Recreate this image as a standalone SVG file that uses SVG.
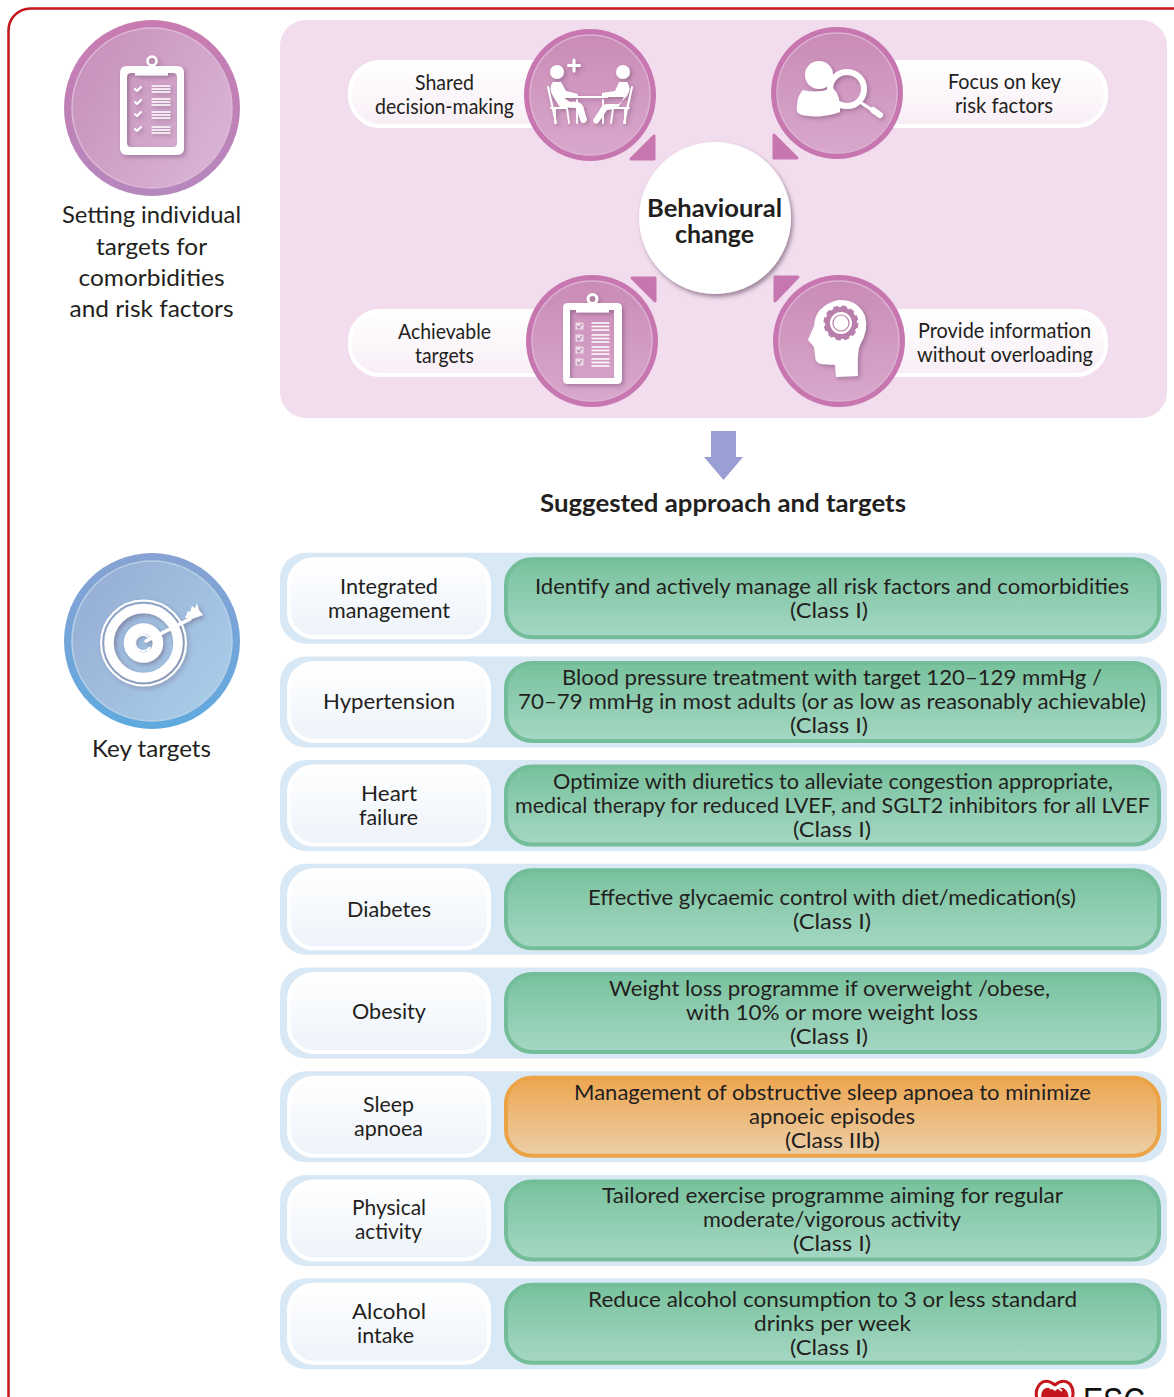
<svg xmlns="http://www.w3.org/2000/svg" width="1174" height="1397" viewBox="0 0 1174 1397">
<style>
text{font-family:Lato,"Noto Sans","Liberation Sans",sans-serif;fill:#231f20;text-anchor:middle}
.t{font-size:22px}.s{font-size:21px}.l{font-size:24px}.b{font-weight:700;font-size:25px}
.row{fill:#d9e8f5}.lp{fill:url(#gLeft);stroke:#fff;stroke-width:4}
.gp{fill:url(#gGreen);stroke:#74bd99;stroke-width:4}.op{fill:url(#gOrange);stroke:#eca346;stroke-width:4}
.pp{fill:url(#gPill);stroke:#fff;stroke-width:4}
.ring{fill:#c776af}.in{fill:url(#gPink);stroke:#dcb1d2;stroke-width:1.5}
.w{fill:#fff}.ws{fill:none;stroke:#fff;stroke-linecap:round;stroke-linejoin:round}
.tri{fill:#c776af;stroke:#c776af;stroke-width:3;stroke-linejoin:round}
</style>
<defs>
<linearGradient id="gLeft" x1="0" y1="0" x2="0" y2="1"><stop offset="0" stop-color="#fff"/><stop offset="1" stop-color="#edf3fa"/></linearGradient>
<linearGradient id="gGreen" x1="0" y1="0" x2="0" y2="1"><stop offset="0" stop-color="#78c29d"/><stop offset="1" stop-color="#a5d7c4"/></linearGradient>
<linearGradient id="gOrange" x1="0" y1="0" x2="0" y2="1"><stop offset="0" stop-color="#eea650"/><stop offset="1" stop-color="#ebcfa8"/></linearGradient>
<linearGradient id="gPill" x1="0" y1="0" x2="0" y2="1"><stop offset="0" stop-color="#fff"/><stop offset="1" stop-color="#f8eef6"/></linearGradient>
<linearGradient id="gPink" x1="0" y1="0" x2="0" y2="1"><stop offset="0" stop-color="#c98cb6"/><stop offset="1" stop-color="#d9a7cc"/></linearGradient>
<linearGradient id="gBigRing" x1="0" y1="0" x2="0" y2="1"><stop offset="0" stop-color="#c97bb0"/><stop offset="1" stop-color="#b587bd"/></linearGradient>
<linearGradient id="gBigIn" x1="0" y1="0" x2="1" y2="0.6"><stop offset="0" stop-color="#c68db8"/><stop offset="1" stop-color="#d8b2d3"/></linearGradient>
<linearGradient id="gBlueRing" x1="0" y1="0" x2="0" y2="1"><stop offset="0" stop-color="#88a2d3"/><stop offset="1" stop-color="#5fa9df"/></linearGradient>
<linearGradient id="gBlueIn" x1="0" y1="0" x2="1" y2="0.8"><stop offset="0" stop-color="#94abd2"/><stop offset="1" stop-color="#a9cde9"/></linearGradient>
<filter id="sh" x="-30%" y="-30%" width="170%" height="170%"><feDropShadow dx="2" dy="2" stdDeviation="2" flood-color="#5a3a5a" flood-opacity="0.4"/></filter>
<filter id="shB" x="-20%" y="-20%" width="150%" height="150%"><feDropShadow dx="2" dy="3" stdDeviation="2" flood-color="#5a3a5a" flood-opacity="0.55"/></filter>
</defs>

<rect id="frame" x="8.500" y="8.500" width="1300" height="1600" rx="22" fill="#fff" stroke="#c4161c" stroke-width="2.500"/>
<rect id="panel" x="280" y="20" width="887" height="398" rx="26" fill="#f1dded"/>

<g id="connectors">
<polygon class="tri" points="654,136 654,159 631,159"/>
<polygon class="tri" points="774,135 774,158 797,158"/>
<polygon class="tri" points="655,278 655,301 632,278"/>
<polygon class="tri" points="775,277 775,301 798,277"/>
<polygon id="down-arrow" points="711,431 736,431 736,457 743,457 723.500,480 704,457 711,457" fill="#9a9fd3"/>
</g>

<g id="node-setting-targets">
<circle cx="152" cy="108" r="88" fill="url(#gBigRing)"/>
<circle cx="152" cy="108" r="80" fill="url(#gBigIn)" stroke="#dcb9d6" stroke-width="1.500"/>
<g filter="url(#sh)">
<path class="w" fill-rule="evenodd" d="M127 66H177Q184 66 184 73V148Q184 155 177 155H127Q120 155 120 148V73Q120 66 127 66ZM131 73Q127 73 127 77V143Q127 147 131 147H173Q177 147 177 143V77Q177 73 173 73Z"/>
<rect class="w" x="135" y="66" width="33" height="9.500"/>
<circle cx="152" cy="61" r="4.500" fill="none" stroke="#fff" stroke-width="2.500"/>
<path class="ws" stroke-width="2" d="M135 89l2 2 4-4M135 102l2 2 4-4M135 114l2 2 4-4M135 129l2 2 4-4"/>
<path class="ws" stroke-width="1.300" stroke-linecap="butt" d="M152 86h18M152 89h18M152 92h18M152 99h18M152 102h18M152 105h18M152 112h18M152 115h18M152 118h18M152 127h18M152 130h18M152 133h18"/>
</g>
<text class="l" x="151.500" y="223" textLength="179" lengthAdjust="spacingAndGlyphs">Setting individual</text>
<text class="l" x="151.500" y="255" textLength="111" lengthAdjust="spacingAndGlyphs">targets for</text>
<text class="l" x="151.500" y="286" textLength="146" lengthAdjust="spacingAndGlyphs">comorbidities</text>
<text class="l" x="151.500" y="317" textLength="164" lengthAdjust="spacingAndGlyphs">and risk factors</text>
</g>

<g id="node-shared">
<rect class="pp" x="350" y="62" width="250" height="64" rx="30"/>
<circle class="ring" cx="590" cy="95" r="66"/><circle class="in" cx="590" cy="95" r="60"/>
<g filter="url(#sh)">
<circle class="w" cx="557" cy="72" r="7"/><circle class="w" cx="623" cy="72" r="7"/>
<path class="ws" stroke-width="3" d="M574 60v11M568.500 65.500h11"/>
<path class="w" d="M553 82Q548 88 553 96L560 107L576 108L581 122Q585 125 587 120L583 106Q580 101 570 102L564 98H578V94L566 91L561 82Z"/>
<path class="w" d="M627 82Q632 88 627 96L619 104L606 104Q601 106 599 111L593 120Q594 125 598 123L607 110L618 108L624 97L616 97H602V93L615 91L619 82Z"/>
<path class="ws" stroke-width="2" d="M570 97H607M548 87L556 123M632 87L624 123"/>
<path class="ws" stroke-width="1.800" d="M551 108H567L569 123M555 108V123M629 108H613L611 123M625 108V123M577 100V123M603 100V123"/>
</g>
<text class="s" x="444.500" y="90" textLength="59" lengthAdjust="spacingAndGlyphs">Shared</text>
<text class="s" x="444.500" y="114" textLength="139" lengthAdjust="spacingAndGlyphs">decision-making</text>
</g>

<g id="node-focus">
<rect class="pp" x="840" y="62" width="266" height="64" rx="30"/>
<circle class="ring" cx="837" cy="93" r="66"/><circle class="in" cx="837" cy="93" r="60"/>
<g filter="url(#sh)">
<circle cx="847" cy="89" r="17" fill="none" stroke="#fff" stroke-width="6"/>
<circle class="w" cx="819" cy="75" r="14"/>
<path class="w" d="M803 90Q818 94 833 88Q841 96 840 112Q820 119 802 115Q795 113 797 106Q797 96 803 90Z"/>
<path class="ws" stroke-width="3" d="M860 102L872 110"/>
<path class="ws" stroke-width="6" d="M873 110L880 115"/>
</g>
<text class="s" x="1004.500" y="89" textLength="113" lengthAdjust="spacingAndGlyphs">Focus on key</text>
<text class="s" x="1004" y="113" textLength="98" lengthAdjust="spacingAndGlyphs">risk factors</text>
</g>

<g id="node-achievable">
<rect class="pp" x="350" y="311" width="250" height="64" rx="30"/>
<circle class="ring" cx="592" cy="341" r="66"/><circle class="in" cx="592" cy="341" r="60"/>
<g filter="url(#sh)">
<path class="w" fill-rule="evenodd" d="M568 303H617Q622 303 622 308V379Q622 384 617 384H568Q563 384 563 379V308Q563 303 568 303ZM570 310V378H614V310Z"/>
<rect class="w" x="576" y="303" width="33" height="9.500"/>
<circle cx="592.500" cy="299" r="4.500" fill="none" stroke="#fff" stroke-width="3"/>
</g>
<g fill="#ecdbe8"><rect x="575.500" y="322.500" width="8" height="7"/><rect x="575.500" y="334.500" width="8" height="7"/><rect x="575.500" y="346.500" width="8" height="7"/><rect x="575.500" y="358.500" width="8" height="7"/></g>
<path fill="none" stroke="#b97fac" stroke-width="1.200" d="M577 326l2 2 3-4M577 338l2 2 3-4M577 350l2 2 3-4M577 362l2 2 3-4"/>
<path class="ws" stroke-width="1.300" stroke-linecap="butt" d="M592 323h17M592 326.500h17M592 330h17M592 335h17M592 338.500h17M592 342h17M592 347h17M592 350.500h17M592 354h17M592 359h17M592 362.500h17M592 366h17"/>
<text class="s" x="444.500" y="339" textLength="93" lengthAdjust="spacingAndGlyphs">Achievable</text>
<text class="s" x="444.500" y="363" textLength="59" lengthAdjust="spacingAndGlyphs">targets</text>
</g>

<g id="node-provide">
<rect class="pp" x="840" y="311" width="266" height="64" rx="30"/>
<circle class="ring" cx="839" cy="341" r="66"/><circle class="in" cx="839" cy="341" r="60"/>
<g filter="url(#sh)">
<path class="w" d="M838 300Q858 299 865 316Q869 330 860 345Q857 352 858 376L836 377L835 365L821 364Q815 363 815 355L814 347L808 340L814 326Q815 306 838 300Z"/>
</g>
<circle cx="841" cy="323" r="13.500" fill="none" stroke="#b97fac" stroke-width="5"/>
<circle cx="841" cy="323" r="15.500" fill="none" stroke="#b97fac" stroke-width="4" stroke-dasharray="5 3.120"/>
<circle cx="841" cy="323" r="8" fill="none" stroke="#b97fac" stroke-width="1.200"/>
<text class="s" x="1004.500" y="338" textLength="173" lengthAdjust="spacingAndGlyphs">Provide information</text>
<text class="s" x="1005" y="362" textLength="176" lengthAdjust="spacingAndGlyphs">without overloading</text>
</g>

<g id="node-behavioural">
<circle cx="715" cy="218" r="76" fill="#fff" filter="url(#shB)"/>
<text class="b" x="714.500" y="217" textLength="135" lengthAdjust="spacingAndGlyphs">Behavioural</text>
<text class="b" x="714.500" y="243" textLength="79" lengthAdjust="spacingAndGlyphs">change</text>
</g>

<text id="heading" class="b" x="723" y="512" textLength="366" lengthAdjust="spacingAndGlyphs" style="font-size:24px">Suggested approach and targets</text>

<g id="node-key-targets">
<circle cx="152" cy="641" r="88" fill="url(#gBlueRing)"/>
<circle cx="152" cy="641" r="80" fill="url(#gBlueIn)" stroke="#b9cfe6" stroke-width="1.500"/>
<g filter="url(#sh)">
<circle cx="143.500" cy="643" r="42.500" fill="none" stroke="#fff" stroke-width="2"/>
<circle cx="143.500" cy="643" r="34.500" fill="none" stroke="#fff" stroke-width="9.500"/>
<circle cx="143.500" cy="643" r="14.500" fill="none" stroke="#fff" stroke-width="10.500"/>
<path class="ws" stroke-width="3.500" d="M146 641L190 619"/>
<path class="w" d="M185 618L188 611L190 612L192 606L195 608L197 603L199 610L203 615L192 619Z"/>
</g>
<path d="M150 639A8 8 0 1 0 150 647" fill="none" stroke="#fff" stroke-width="2"/>
<text class="l" x="151.500" y="757" textLength="119" lengthAdjust="spacingAndGlyphs">Key targets</text>
</g>

<g id="node-integrated">
<rect class="row" x="280" y="552.700" width="887" height="91" rx="26"/>
<rect class="lp" x="289" y="559.200" width="200" height="78" rx="25"/>
<rect class="gp" x="506" y="559.200" width="653" height="78" rx="26"/>
<text class="t" x="389" y="594" textLength="98" lengthAdjust="spacingAndGlyphs">Integrated</text>
<text class="t" x="389" y="618" textLength="122" lengthAdjust="spacingAndGlyphs">management</text>
<text class="t" x="832" y="594" textLength="594" lengthAdjust="spacingAndGlyphs">Identify and actively manage all risk factors and comorbidities</text>
<text class="t" x="829" y="618" textLength="78" lengthAdjust="spacingAndGlyphs">(Class I)</text>
</g>

<g id="node-hypertension">
<rect class="row" x="280" y="656.400" width="887" height="91" rx="26"/>
<rect class="lp" x="289" y="662.900" width="200" height="78" rx="25"/>
<rect class="gp" x="506" y="662.900" width="653" height="78" rx="26"/>
<text class="t" x="389" y="709" textLength="132" lengthAdjust="spacingAndGlyphs">Hypertension</text>
<text class="t" x="832" y="685" textLength="540" lengthAdjust="spacingAndGlyphs">Blood pressure treatment with target 120–129 mmHg /</text>
<text class="t" x="832" y="709" textLength="628" lengthAdjust="spacingAndGlyphs">70–79 mmHg in most adults (or as low as reasonably achievable)</text>
<text class="t" x="829" y="733" textLength="78" lengthAdjust="spacingAndGlyphs">(Class I)</text>
</g>

<g id="node-heart-failure">
<rect class="row" x="280" y="760.100" width="887" height="91" rx="26"/>
<rect class="lp" x="289" y="766.600" width="200" height="78" rx="25"/>
<rect class="gp" x="506" y="766.600" width="653" height="78" rx="26"/>
<text class="t" x="389" y="801" textLength="56" lengthAdjust="spacingAndGlyphs">Heart</text>
<text class="t" x="388.500" y="825" textLength="59" lengthAdjust="spacingAndGlyphs">failure</text>
<text class="t" x="833" y="789" textLength="560" lengthAdjust="spacingAndGlyphs">Optimize with diuretics to alleviate congestion appropriate,</text>
<text class="t" x="832.500" y="813" textLength="635" lengthAdjust="spacingAndGlyphs">medical therapy for reduced LVEF, and SGLT2 inhibitors for all LVEF</text>
<text class="t" x="832" y="837" textLength="78" lengthAdjust="spacingAndGlyphs">(Class I)</text>
</g>

<g id="node-diabetes">
<rect class="row" x="280" y="863.800" width="887" height="91" rx="26"/>
<rect class="lp" x="289" y="870.300" width="200" height="78" rx="25"/>
<rect class="gp" x="506" y="870.300" width="653" height="78" rx="26"/>
<text class="t" x="389" y="917" textLength="84" lengthAdjust="spacingAndGlyphs">Diabetes</text>
<text class="t" x="832" y="905" textLength="488" lengthAdjust="spacingAndGlyphs">Effective glycaemic control with diet/medication(s)</text>
<text class="t" x="832" y="929" textLength="78" lengthAdjust="spacingAndGlyphs">(Class I)</text>
</g>

<g id="node-obesity">
<rect class="row" x="280" y="967.500" width="887" height="91" rx="26"/>
<rect class="lp" x="289" y="974" width="200" height="78" rx="25"/>
<rect class="gp" x="506" y="974" width="653" height="78" rx="26"/>
<text class="t" x="389" y="1019" textLength="74" lengthAdjust="spacingAndGlyphs">Obesity</text>
<text class="t" x="829.500" y="996" textLength="441" lengthAdjust="spacingAndGlyphs">Weight loss programme if overweight /obese,</text>
<text class="t" x="832" y="1020" textLength="292" lengthAdjust="spacingAndGlyphs">with 10% or more weight loss</text>
<text class="t" x="829" y="1044" textLength="78" lengthAdjust="spacingAndGlyphs">(Class I)</text>
</g>

<g id="node-sleep-apnoea">
<rect class="row" x="280" y="1071.200" width="887" height="91" rx="26"/>
<rect class="lp" x="289" y="1077.700" width="200" height="78" rx="25"/>
<rect class="op" x="506" y="1077.700" width="653" height="78" rx="26"/>
<text class="t" x="388.500" y="1112" textLength="51" lengthAdjust="spacingAndGlyphs">Sleep</text>
<text class="t" x="388.500" y="1136" textLength="69" lengthAdjust="spacingAndGlyphs">apnoea</text>
<text class="t" x="832.500" y="1100" textLength="517" lengthAdjust="spacingAndGlyphs">Management of obstructive sleep apnoea to minimize</text>
<text class="t" x="832" y="1124" textLength="166" lengthAdjust="spacingAndGlyphs">apnoeic episodes</text>
<text class="t" x="832.500" y="1148" textLength="95" lengthAdjust="spacingAndGlyphs">(Class IIb)</text>
</g>

<g id="node-physical-activity">
<rect class="row" x="280" y="1174.900" width="887" height="91" rx="26"/>
<rect class="lp" x="289" y="1181.400" width="200" height="78" rx="25"/>
<rect class="gp" x="506" y="1181.400" width="653" height="78" rx="26"/>
<text class="t" x="389" y="1215" textLength="74" lengthAdjust="spacingAndGlyphs">Physical</text>
<text class="t" x="388.500" y="1239" textLength="67" lengthAdjust="spacingAndGlyphs">activity</text>
<text class="t" x="832.500" y="1203" textLength="461" lengthAdjust="spacingAndGlyphs">Tailored exercise programme aiming for regular</text>
<text class="t" x="832" y="1227" textLength="258" lengthAdjust="spacingAndGlyphs">moderate/vigorous activity</text>
<text class="t" x="832" y="1251" textLength="78" lengthAdjust="spacingAndGlyphs">(Class I)</text>
</g>

<g id="node-alcohol">
<rect class="row" x="280" y="1278.300" width="887" height="91" rx="26"/>
<rect class="lp" x="289" y="1284.800" width="200" height="78" rx="25"/>
<rect class="gp" x="506" y="1284.800" width="653" height="78" rx="26"/>
<text class="t" x="389" y="1319" textLength="74" lengthAdjust="spacingAndGlyphs">Alcohol</text>
<text class="t" x="385.500" y="1343" textLength="57" lengthAdjust="spacingAndGlyphs">intake</text>
<text class="t" x="832.500" y="1307" textLength="489" lengthAdjust="spacingAndGlyphs">Reduce alcohol consumption to 3 or less standard</text>
<text class="t" x="832.500" y="1331" textLength="157" lengthAdjust="spacingAndGlyphs">drinks per week</text>
<text class="t" x="829" y="1355" textLength="78" lengthAdjust="spacingAndGlyphs">(Class I)</text>
</g>

<g id="esc-logo">
<path d="M1055 1385Q1046 1378 1040 1384Q1033 1392 1039 1404L1055 1420L1070 1404Q1076 1392 1070 1384Q1063 1378 1055 1385Z" fill="#fff" stroke="#c4161c" stroke-width="3"/>
<path d="M1055 1391Q1048 1385 1043 1390Q1039 1396 1044 1404L1055 1416L1066 1404Q1071 1396 1066 1390Q1061 1385 1055 1391Z" fill="#c4161c"/>
<path d="M1050 1389Q1056 1385 1062 1391" fill="none" stroke="#fff" stroke-width="1.800"/>
<text x="1114" y="1414" textLength="62" lengthAdjust="spacingAndGlyphs" style="font-family:'Liberation Sans',Arial,sans-serif;font-size:36px;fill:#111">ESC</text>
</g>
</svg>
